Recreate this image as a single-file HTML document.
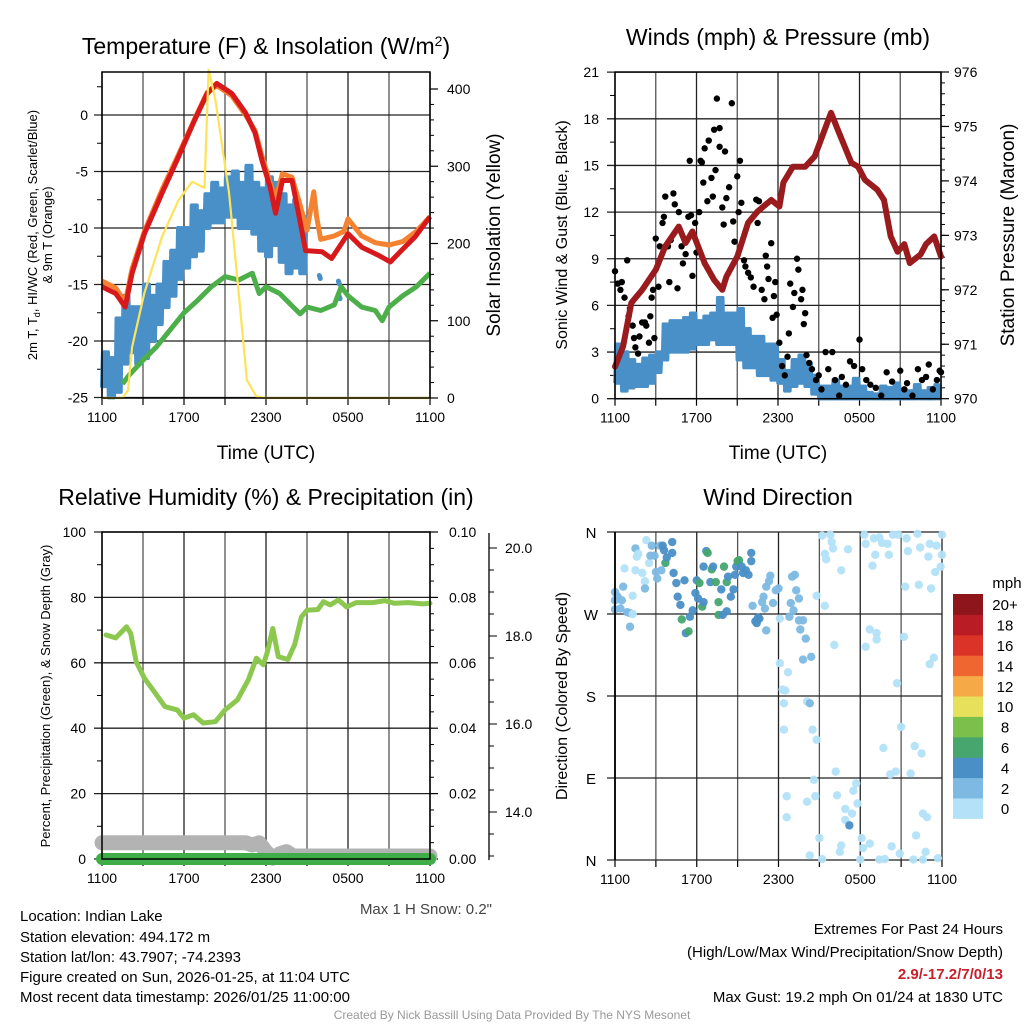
<!DOCTYPE html>
<html><head><meta charset="utf-8"><style>
html,body{margin:0;padding:0;background:#fff;}
svg{display:block;font-family:"Liberation Sans",Arial,sans-serif;}
</style></head><body>
<svg id="chart" width="1024" height="1024" viewBox="0 0 1024 1024" xmlns="http://www.w3.org/2000/svg">
<rect width="1024" height="1024" fill="#fff"/>
<text x="266" y="54" font-size="23" text-anchor="middle">Temperature (F) &amp; Insolation (W/m<tspan baseline-shift="super" font-size="14">2</tspan>)</text>
<text x="778" y="45" font-size="23" text-anchor="middle">Winds (mph) &amp; Pressure (mb)</text>
<text x="266" y="505" font-size="23" text-anchor="middle">Relative Humidity (%) &amp; Precipitation (in)</text>
<text x="778" y="505" font-size="23" text-anchor="middle">Wind Direction</text>
<g id="layer"></g>
<text x="492" y="914" font-size="15" fill="#444" text-anchor="end">Max 1 H Snow: 0.2"</text>
<g font-size="15">
<text x="20" y="921">Location: Indian Lake</text>
<text x="20" y="942">Station elevation: 494.172 m</text>
<text x="20" y="962">Station lat/lon: 43.7907; -74.2393</text>
<text x="20" y="982">Figure created on Sun, 2026-01-25, at 11:04 UTC</text>
<text x="20" y="1002">Most recent data timestamp: 2026/01/25 11:00:00</text>
</g>
<g font-size="15" text-anchor="end">
<text x="1003" y="934">Extremes For Past 24 Hours</text>
<text x="1003" y="957">(High/Low/Max Wind/Precipitation/Snow Depth)</text>
<text x="1003" y="979" fill="#c8202a" font-weight="bold">2.9/-17.2/7/0/13</text>
<text x="1003" y="1002">Max Gust: 19.2 mph On 01/24 at 1830 UTC</text>
</g>
<text x="512" y="1019" font-size="12" fill="#999" text-anchor="middle">Created By Nick Bassill Using Data Provided By The NYS Mesonet</text>
</svg>
<script>
// ---- Panel 1 data ----
const tempT=[0,1,1.7,2.2,3.1,4.4,5.6,6.8,7.7,8.4,9.5,10.5,11.2,11.7,12.3,12.7,13.2,13.9,14.3,14.9,16.1,16.8,18,19,20.2,21.1,21.9,22.9,24];
const tempV=[-15.2,-15.8,-17.0,-14,-10.5,-6.9,-3.7,-0.4,1.9,2.8,1.9,0.2,-1.6,-4,-6.4,-8.7,-5.8,-5.8,-8.2,-12,-12.1,-12.7,-10.5,-11.7,-12.4,-13,-12,-10.8,-9];
const t9T=[0,1,1.7,2.2,3.1,4.4,5.6,6.8,7.7,8.4,9.5,10.5,11.2,11.7,12.3,12.7,13.2,13.9,14.5,15.0,15.5,15.7,16.0,17.0,17.7,18.0,19,20,21,22,23,24];
const t9V=[-14.7,-15.3,-16.6,-13.6,-10.3,-6.6,-3.5,-0.3,2.0,2.6,1.7,0.0,-1.4,-3.6,-6.0,-7.5,-5.2,-5.5,-8,-10.2,-6.8,-9,-11,-10.7,-10.3,-9.2,-10.7,-11.3,-11.5,-11.2,-10.3,-9];
const tdT=[0,0.5,1,1.5,2,2.5,3,3.5,4,4.5,5,5.5,6,6.5,7,7.5,8,8.5,9,9.5,10,10.5,11,11.5,12,12.5,13,13.5,14,14.5];
const tdLo=[-24,-25,-24.5,-22,-21,-22,-21.5,-20,-18.5,-17,-16,-14.5,-13.5,-12.5,-12,-10,-9.5,-9.5,-9,-9,-10,-10,-10.5,-12,-12.5,-11.5,-13,-14,-13.5,-14];
const tdHi=[-21,-21.5,-18,-16,-17,-17,-15,-16,-15,-13,-12,-10,-10,-8,-8.5,-7,-6,-6.5,-5.5,-5,-6,-4.5,-6,-6.5,-5.5,-6,-7,-8,-7.5,-9];
const tdDotT=[15.9,17.3,17.35];
const tdDotV=[-14.2,-14.7,-16];
const wcT=[1.5,2,3,4,5,6,7,7.5,8,9,10,11,11.5,12,13,14,14.5,15,16,17,17.5,18,19,20,20.5,21,22,23,24];
const wcV=[-23.8,-23,-21.7,-20.5,-19,-17.5,-16.4,-15.8,-15.2,-14.3,-14.6,-14,-15.8,-15.2,-15.8,-17,-17.6,-17,-17.3,-16.8,-15.2,-16,-17,-17.3,-18.2,-17,-16,-15.2,-14];
const solT=[0,1.5,1.9,2.2,3.1,4.4,5.6,6.6,7.5,7.8,8.3,9.3,10.0,10.6,11.3,12,24];
const solV=[0,0,10,66,136,209,256,280,272,425,386,265,136,23,2,0,0];
const tempTicks=[0,-5,-10,-15,-20,-25];
const solTicks=[0,100,200,300,400];
const timeLabels=["1100","1700","2300","0500","1100"];
// ---- Panel 2 data ----
const presT=[0,0.6,1.2,2,3,3.7,4.7,5.2,5.7,6.6,7.3,7.9,8.2,9,9.8,10.5,11.5,12.1,12.4,13.1,14,14.7,15.9,16.4,17.4,17.9,18.4,19.3,19.8,20.3,20.8,21.3,21.7,22.5,22.9,23.5,24];
const presV=[970.59,970.96,971.76,972.0,972.37,972.8,973.16,972.86,973.07,972.49,972.18,972.0,972.24,972.61,973.23,973.44,973.65,973.53,973.97,974.26,974.26,974.45,975.25,974.94,974.33,974.26,974.02,973.84,973.65,972.98,972.70,972.84,972.49,972.65,972.84,972.98,972.61];
const windT=[0,0.5,1,1.5,2,2.5,3,3.5,4,4.5,5,5.5,6,6.5,7,7.5,8,8.5,9,9.5,10,10.5,11,11.5,12,12.5,13,13.5,14,14.5,15,15.5,16,16.5,17,17.5,18,18.5,19,19.5,20,20.5,21,21.5,22,22.5,23,23.5];
const windLo=[1.0,0.5,0.7,0.8,0.8,1,1.7,2.5,3,3,3,3.2,3.5,3.5,3.8,3.5,3.5,3.5,2.5,2,2,1.5,1.5,1.2,1.0,0.5,0.8,1,0.8,0.3,0,0,0,0,0,0,0,0,0,0,0,0,0,0,0,0,0,0];
const windHi=[3.5,3,2.5,2.2,2.6,2.8,3,4.8,5,5,5.2,5.5,5,5.3,5.5,6.5,5.5,5.5,5.8,4.5,4,4,3.5,3.5,2.5,1.8,2.5,2.8,2.3,1.5,0.8,0.8,1.2,0.8,0.8,1.3,0.8,0.4,0.3,0.8,0.7,1,0.6,0.5,0.9,0.5,0.7,0.9];
const gustT=[0,0.2,0.4,0.5,0.7,0.9,1.0,1.1,1.3,1.4,1.5,1.7,1.8,2.0,2.2,2.3,2.5,2.6,2.7,2.8,2.9,3.0,3.2,3.3,3.5,3.6,3.7,3.9,4.0,4.1,4.3,4.4,4.6,4.7,4.9,5.0,5.2,5.4,5.5,5.6,5.7,5.9,6.0,6.2,6.3,6.4,6.5,6.6,6.8,6.9,7.1,7.2,7.3,7.4,7.5,7.7,7.7,7.9,8.0,8.1,8.2,8.4,8.6,8.7,8.8,9.0,9.1,9.2,9.3,9.5,9.6,9.8,10.0,10.2,10.4,10.5,10.6,10.8,11.0,11.1,11.2,11.3,11.5,11.6,11.7,11.8,11.9,12.1,12.3,12.5,12.7,12.8,12.9,13.1,13.2,13.4,13.5,13.7,13.8,13.9,14.0,14.1,14.3,14.5,14.8,15.0,15.2,15.5,15.7,16.0,16.2,16.5,16.7,17.0,17.3,17.6,18.0,18.2,18.5,18.8,19.2,19.6,20.0,20.4,21.0,21.3,21.5,21.9,22.3,22.6,22.9,23.1,23.4,23.7,23.9,24.0];
const gustV=[8.2,7.4,7.0,7.5,6.5,8.9,5.3,5.8,4.7,3.9,3.3,2.9,4.0,4.9,4.9,4.7,3.6,5.3,6.5,7.0,3.9,10.3,7.2,9.8,11.3,11.7,13.0,9.8,7.5,10.2,13.2,12.5,7.1,12.0,9.8,8.7,9.3,11.7,15.3,11.8,7.9,11.3,9.4,12.0,15.3,15.2,13.9,16.1,12.7,16.6,14.2,13.0,17.3,14.7,19.3,17.4,16.2,12.3,11.2,15.9,12.9,13.6,19.0,11.4,10.1,14.3,12.0,15.3,12.6,8.9,8.5,8.1,7.8,7.2,12.8,11.3,12.7,7.0,6.4,9.2,8.5,7.7,10.0,5.2,6.6,7.5,5.4,3.6,2.1,1.5,2.7,4.2,7.4,5.9,6.8,9.0,8.3,6.4,7.0,4.8,5.5,2.8,2.3,1.9,1.2,1.5,0.6,3.0,1.9,3.0,1.2,0.2,1.4,0.9,2.4,2.1,3.8,1.9,1.2,0.9,0.7,0.2,1.7,1.1,1.8,0.6,1.0,0.2,1.9,1.2,1.4,2.2,0.6,1.2,1.8,1.7];
const windTicks=[0,3,6,9,12,15,18,21];
const presTicks=[970,971,972,973,974,975,976];
// ---- Panel 3 data ----
const rhT=[0.3,1.0,1.8,2.1,2.5,3.1,3.9,4.6,5.5,6.0,6.7,7.4,8.3,9.0,9.9,10.7,11.3,11.8,12.1,12.5,12.9,13.6,14.1,14.6,15.0,15.8,16.2,16.7,17.3,17.9,18.6,19.8,20.7,21.4,22.4,23.5,24];
const rhV=[68.5,67.6,71,69,60.3,55.3,50.7,46.6,45.6,43.1,44.1,41.6,42,45.6,48.6,54.7,61.4,59.4,63.4,70.5,61.9,61,65.6,74.1,76.1,76.3,78.7,77.7,79.2,77.1,78.4,78.4,79,78.2,78.4,78,78.2];
const snowT=[0,10.5,11.0,11.5,12.0,12.5,13.0,13.5,14.0,24];
const snowV=[13.3,13.3,13.25,13.3,13.1,12.95,13.05,13.1,13.0,13.0];
const precT=[0,24];
const precV=[0,0];
const rhTicks=[0,20,40,60,80,100];
const precTicks=["0.00","0.02","0.04","0.06","0.08","0.10"];
const snowTicks=[14,16,18,20];
// ---- Panel 4 data ----
const dirT=[0,0,0.2,0.5,0,0.4,0.6,0.9,1.1,1.3,1.1,1.3,0.7,1.5,1.5,1.7,1.6,2.0,2.2,2.2,2.3,2.5,2.6,2.7,2.9,3.0,3.1,3.3,3.4,3.5,3.6,3.7,3.8,4.2,4.2,4.3,4.5,4.6,4.8,4.9,5.1,5.2,5.4,5.5,5.7,5.9,6.0,6.1,6.2,6.4,6.5,6.5,6.7,6.8,7.0,7.1,7.2,7.4,7.6,7.6,7.8,7.9,8.0,8.2,8.2,8.3,8.5,8.7,8.8,8.9,9.0,9.1,9.3,9.4,9.6,9.8,10.0,10.0,10.1,10.3,10.4,10.5,10.6,10.8,10.9,11.0,11.1,11.1,11.3,11.4,11.6,11.8,12.0,12.1,12.1,12.3,12.4,12.4,12.5,12.6,12.6,12.7,12.8,12.9,13.0,13.1,13.2,13.3,13.5,13.5,13.6,13.8,14.0,13.8,14.1,14.1,14.3,14.3,14.4,14.5,14.6,14.7,14.8,14.8,15.0,15.2,15.2,15.4,15.4,15.5,15.8,15.9,16.0,16.1,16.2,16.3,16.5,16.6,16.6,16.9,16.9,17.1,17.2,17.4,17.5,17.7,17.8,18.0,18.1,18.2,18.3,18.4,18.4,18.7,18.7,18.9,19.0,19.1,19.2,19.2,19.4,19.4,19.6,19.7,19.8,20.0,20.1,20.2,20.3,20.4,20.6,20.7,20.8,20.9,21.0,21.2,21.3,21.4,21.5,21.7,21.9,22.0,22.1,22.2,22.3,22.4,22.5,22.6,22.6,22.8,22.9,23.0,23.1,23.1,23.2,23.4,23.5,23.6,23.7,23.9,24.0,24.0];
const dirDeg=[294,285,289,285,275,276,300,272,271,270,256,290,320,318,342,336,333,315,306,298,351,326,334,345,334,316,309,345,318,345,340,326,332,349,337,315,304,289,280,264,307,249,251,267,274,293,307,287,304,278,283,322,339,337,305,319,322,305,283,269,297,269,322,305,273,311,289,297,313,322,328,329,322,315,318,313,328,337,279,262,260,266,265,283,289,276,300,252,306,312,282,296,298,265,216,187,172,143,186,70,47,206,267,282,311,274,313,296,287,263,253,263,243,220,174,64,172,5,223,143,88,70,132,290,24,1,356,336,279,330,357,349,342,236,97,71,9,16,318,56,44,341,38,51,76,84,62,0.5,24,13,357,347,234,253,18,323,353,335,242,249,0.5,354,348,123,1,347,335,94,15,357,97,194,357,7,146,245,300,353,339,95,0.5,125,27,358,302,343,117,51,0.5,9,47,333,215,347,298,222,316,345,2,322,335,357];
const dirSpd=[3,3,3,3,3,3,3,3,3,1,3,1,1,1,3,1,1,1,1,3,1,1,3,3,3,3,3,3,3,5,5,7,5,5,5,5,5,5,5,7,5,5,7,5,5,5,5,5,7,7,5,5,5,7,5,7,5,7,7,7,5,5,7,7,5,5,5,5,5,5,7,7,5,5,5,5,5,5,3,5,5,5,5,3,3,3,3,3,3,3,3,3,3,1,1,1,1,1,1,1,1,1,3,3,3,3,3,3,3,3,3,3,3,3,1,1,3,1,3,1,1,1,1,1,1,1,1,1,1,1,1,1,1,1,1,1,1,1,1,1,1,1,5,1,1,1,1,1,1,1,1,1,1,1,1,1,1,1,1,1,1,1,1,1,1,1,1,1,1,1,1,1,1,1,1,1,1,1,1,1,1,1,1,1,1,1,1,1,1,1,1,1,1,1,1,1,1,1,1,1,1,1,1,1,1,1,1];
const dirLabels=["N","E","S","W","N"];
const cbarLabels=["0","2","4","6","8","10","12","14","16","18","20+"];
const cbarColors=["#b3e2f8","#7db9e3","#4a8fc6","#46a66e","#7cc04c","#e6e05a","#f6a947","#ef6630","#dc3328","#b91c25","#8e1519"];

const NS="http://www.w3.org/2000/svg";
const layer=document.getElementById('layer');
function mk(tag,attrs,parent){const e=document.createElementNS(NS,tag);for(const k in attrs)e.setAttribute(k,attrs[k]);(parent||layer).appendChild(e);return e;}
function txt(s,x,y,size,anchor,parent,extra){const e=mk('text',Object.assign({x:x,y:y,'font-size':size,'text-anchor':anchor||'start'},extra||{}),parent);e.textContent=s;return e;}
function linePath(xs,ys,fx,fy){return xs.map((t,i)=>(i?'L':'M')+fx(t).toFixed(1)+','+fy(ys[i]).toFixed(1)).join('');}
// dense zigzag between lo/hi values of each half-hour block
function zig(ts,lo,hi){const zx=[],zy=[];ts.forEach((t,i)=>{for(let k=0;k<4;k++){zx.push(t+k*0.125);zy.push(lo[i]);zx.push(t+k*0.125+0.0625);zy.push(hi[i]);}});return [zx,zy];}

function frame(g,x0,x1,y0,y1){
  const fx=t=>x0+t/24*(x1-x0);
  for(let h=0;h<=24;h+=3){
    const gl=mk('line',{x1:fx(h),x2:fx(h),y1:y0,y2:y1,stroke:(h%6?'#555':'#222'),'stroke-width':1.3},g);
    
    
    mk('line',{x1:fx(h),x2:fx(h),y1:y1,y2:y1+7,stroke:'#000','stroke-width':1.2},g);
  }
  timeLabels.forEach((s,i)=>{const t=txt(s,fx(i*6),y1+24,14,'middle',g);
    
    });
  return fx;
}
function hgrid(g,x0,x1,y){mk('line',{x1:x0-8,x2:x1,y1:y,y2:y,stroke:'#222','stroke-width':1.3},g);}

// ===== Panel 1 =====
(function(){
  const g=mk('g',{});
  
  
  const x0=102,x1=430,y0=72,y1=398;
  const fy=v=>115-v*11.3, sy=v=>398-v*0.7725;
  const fx=frame(g,x0,x1,y0,y1);
  tempTicks.forEach(v=>{hgrid(g,x0,x1,fy(v));const t=txt(String(v),88,fy(v)+5,14,'end',g);
    });
  for(let v=2.5;v>-25;v-=5)mk('line',{x1:x0-5,x2:x0,y1:fy(v),y2:fy(v),stroke:'#000'},g);
  solTicks.forEach(v=>{mk('line',{x1:x1,x2:x1+8,y1:sy(v),y2:sy(v),stroke:'#000','stroke-width':1.2},g);const t=txt(String(v),447,sy(v)+5,14,'start',g);
    });
  for(let v=20;v<420;v+=20)if(v%100)mk('line',{x1:x1,x2:x1+4,y1:sy(v),y2:sy(v),stroke:'#000'},g);
  const z=zig(tdT,tdLo,tdHi);
  const td=mk('path',{d:linePath(z[0],z[1],fx,fy),fill:'none',stroke:'#4a90c8','stroke-width':4,'stroke-linejoin':'round','stroke-linecap':'round'},g);
  
  tdDotT.forEach((t,i)=>{const d=mk('line',{x1:fx(t),x2:fx(t)+1,y1:fy(tdDotV[i]),y2:fy(tdDotV[i])+3,stroke:'#4a90c8','stroke-width':5,'stroke-linecap':'round'},g);
    });
  const wc=mk('path',{d:linePath(wcT,wcV,fx,fy),fill:'none',stroke:'#4daf4a','stroke-width':5,'stroke-linejoin':'round'},g);
  
  const o=mk('path',{d:linePath(t9T,t9V,fx,fy),fill:'none',stroke:'#f58231','stroke-width':5,'stroke-linejoin':'round'},g);
  
  const r=mk('path',{d:linePath(tempT,tempV,fx,fy),fill:'none',stroke:'#d7191c','stroke-width':5,'stroke-linejoin':'round'},g);
  
  const s=mk('path',{d:linePath(solT,solV,fx,sy),fill:'none',stroke:'#fde35a','stroke-width':2.2,'stroke-linejoin':'round'},g);
  
  mk('rect',{x:x0,y:y0,width:x1-x0,height:y1-y0,fill:'none',stroke:'#000','stroke-width':1.5},g);
  const tt=txt('Time (UTC)',266,459,19,'middle',g);
  const a=txt('Solar Insolation (Yellow)',0,0,19,'middle',g,{transform:'translate(500,235) rotate(-90)'});
  
  const b=mk('text',{transform:'translate(37,235) rotate(-90)','font-size':13,'text-anchor':'middle'},g);
  
  b.innerHTML='2m T, T<tspan font-size="9" dy="3">d</tspan><tspan dy="-3">, HI/WC (Red, Green, Scarlet/Blue)</tspan>';
  const c=txt('& 9m T (Orange)',0,0,13,'middle',g,{transform:'translate(52,235) rotate(-90)'});
  
})();

// ===== Panel 2 =====
(function(){
  const g=mk('g',{});
  
  
  const x0=615,x1=941,y0=72,y1=398.7;
  const fy=v=>398.7-v*15.55, py=p=>398.7-(p-970)*54.45;
  const fx=frame(g,x0,x1,y0,y1);
  windTicks.forEach(v=>{hgrid(g,x0,x1,fy(v));const t=txt(String(v),599,fy(v)+5,14,'end',g);
    });
  for(let v=1.5;v<21;v+=3)mk('line',{x1:x0-5,x2:x0,y1:fy(v),y2:fy(v),stroke:'#000'},g);
  presTicks.forEach(v=>{mk('line',{x1:x1,x2:x1+8,y1:py(v),y2:py(v),stroke:'#000','stroke-width':1.2},g);const t=txt(String(v),954,py(v)+5,14,'start',g);
    });
  for(let v=970.2;v<976;v+=0.2)mk('line',{x1:x1,x2:x1+4,y1:py(v),y2:py(v),stroke:'#000'},g);
  const z=zig(windT,windLo,windHi);
  const w=mk('path',{d:linePath(z[0],z[1],fx,fy),fill:'none',stroke:'#4a90c8','stroke-width':3.5,'stroke-linejoin':'round'},g);
  
  gustT.forEach((t,i)=>{const d=mk('circle',{cx:fx(t),cy:fy(gustV[i]),r:3.2,fill:'#000'},g);
    });
  const p=mk('path',{d:linePath(presT,presV,fx,py),fill:'none',stroke:'#991b1e','stroke-width':6,'stroke-linejoin':'round','stroke-linecap':'round'},g);
  
  mk('rect',{x:x0,y:y0,width:x1-x0,height:y1-y0,fill:'none',stroke:'#000','stroke-width':1.5},g);
  const tt=txt('Time (UTC)',778,459,19,'middle',g);
  const a=txt('Sonic Wind & Gust (Blue, Black)',0,0,16,'middle',g,{transform:'translate(567,235) rotate(-90)'});
  
  const b=txt('Station Pressure (Maroon)',0,0,19,'middle',g,{transform:'translate(1014,235) rotate(-90)'});
  
})();

// ===== Panel 3 =====
(function(){
  const g=mk('g',{});
  
  
  const x0=102,x1=430,y0=532,y1=859;
  const fy=v=>859-v*3.27, sy=v=>812-(v-14)*44;
  const fx=frame(g,x0,x1,y0,y1);
  rhTicks.forEach(v=>{hgrid(g,x0,x1,fy(v));const t=txt(String(v),86,fy(v)+5,14,'end',g);
    });
  for(let v=10;v<100;v+=20)mk('line',{x1:x0-5,x2:x0,y1:fy(v),y2:fy(v),stroke:'#000'},g);
  precTicks.forEach((s,i)=>{const y=fy(i*20);mk('line',{x1:x1,x2:x1+8,y1:y,y2:y,stroke:'#000','stroke-width':1.2},g);const t=txt(s,449,y+5,14,'start',g);
    });
  for(let v=5;v<100;v+=5)if(v%20)mk('line',{x1:x1,x2:x1+4,y1:fy(v),y2:fy(v),stroke:'#000'},g);
  mk('line',{x1:489,x2:489,y1:533,y2:860,stroke:'#000','stroke-width':1.3},g);
  snowTicks.forEach(v=>{mk('line',{x1:489,x2:497,y1:sy(v),y2:sy(v),stroke:'#000'},g);const t=txt(v.toFixed(1),505,sy(v)+5,14,'start',g);
    });
  for(let v=13;v<=21;v+=0.5)if(v%2&&sy(v)>533&&sy(v)<860)mk('line',{x1:489,x2:494,y1:sy(v),y2:sy(v),stroke:'#000'},g);
  const sn=mk('path',{d:linePath(snowT,snowV,fx,sy),fill:'none',stroke:'#b3b3b3','stroke-width':15,'stroke-linejoin':'round','stroke-linecap':'round'},g);
  
  const pr=mk('path',{d:linePath(precT,precV,fx,v=>fy(v*1000)),fill:'none',stroke:'#3fae49','stroke-width':12,'stroke-linecap':'round'},g);
  
  const rh=mk('path',{d:linePath(rhT,rhV,fx,fy),fill:'none',stroke:'#8cc850','stroke-width':5,'stroke-linejoin':'round','stroke-linecap':'round'},g);
  
  mk('rect',{x:x0,y:y0,width:x1-x0,height:y1-y0,fill:'none',stroke:'#000','stroke-width':1.5},g);
  const a=txt('Percent, Precipitation (Green), & Snow Depth (Gray)',0,0,13,'middle',g,{transform:'translate(50,696) rotate(-90)'});
  
})();

// ===== Panel 4 =====
(function(){
  const g=mk('g',{});
  
  
  const x0=615,x1=942,y0=532,y1=860;
  const fy=d=>860-d*328/360;
  const fx=frame(g,x0,x1,y0,y1);
  dirLabels.forEach((s,i)=>{const y=fy(i*90);hgrid(g,x0,x1,y);const t=txt(s,591,y+6,15,'middle',g);
    });
  function col(sp){let k=Math.min(10,Math.floor(sp/2));return cbarColors[k];}
  dirT.forEach((t,i)=>{const d=mk('circle',{cx:fx(t),cy:fy(dirDeg[i]),r:4.2,fill:col(dirSpd[i]),'fill-opacity':0.95},g);
    });
  mk('line',{x1:x0,x2:x0,y1:y0,y2:y1,stroke:'#000','stroke-width':1.8},g);
  const a=txt('Direction (Colored By Speed)',0,0,16,'middle',g,{transform:'translate(567,696) rotate(-90)'});
  
  const cb=mk('g',{},g);
  
  const h=20.4, top=594;
  cbarColors.forEach((c,i)=>{const y=top+(10-i)*h;mk('rect',{x:953,y:y,width:30,height:h+0.5,fill:c},cb);
    const t=txt(cbarLabels[i],1005,y+h/2+6,15,'middle',cb);
    });
  const m=txt('mph',1007,588,15,'middle',cb);
})();
</script>
</body></html>
